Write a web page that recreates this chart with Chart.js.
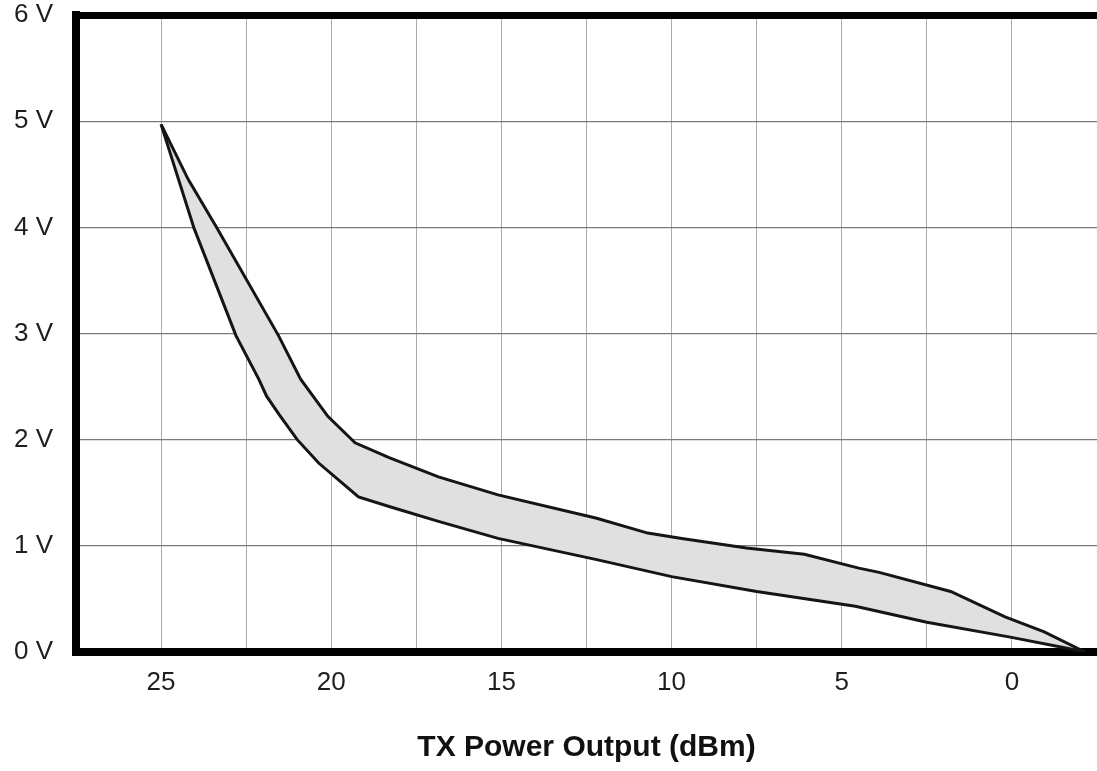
<!DOCTYPE html>
<html>
<head>
<meta charset="utf-8">
<script src="https://cdn.jsdelivr.net/npm/chart.js@4.4.1/dist/chart.umd.min.js"></script>
<style>
  html, body { margin: 0; padding: 0; background: #fff; }
  #wrap { width: 1097px; height: 771px; position: relative; }
</style>
</head>
<body>
<div id="wrap"><canvas id="c"></canvas></div>
<script>
// TX power (dBm) and voltage (V) for the upper and lower boundary curves
const upperPower = [25.0, 24.2, 23.35, 21.55, 20.9, 20.1, 19.3, 18.3, 16.85, 15.1, 12.2, 10.7, 9.7, 7.8, 6.1, 4.5, 3.9, 1.8, 0.2, -0.95, -2.15];
const upperVolts = [4.97, 4.45, 3.99, 2.98, 2.57, 2.22, 1.97, 1.83, 1.65, 1.48, 1.26, 1.12, 1.07, 0.98, 0.92, 0.79, 0.75, 0.57, 0.33, 0.19, 0.0];
const lowerPower = [25.0, 24.03, 22.8, 22.13, 21.9, 21.54, 21.0, 20.37, 19.2, 18.3, 16.85, 15.1, 12.2, 10.0, 7.5, 4.6, 2.5, 0.05, -1.55, -2.15];
const lowerVolts = [4.97, 3.99, 2.98, 2.57, 2.41, 2.24, 2.0, 1.78, 1.46, 1.37, 1.23, 1.07, 0.87, 0.71, 0.57, 0.43, 0.28, 0.14, 0.04, 0.0];
const xTickLabels = ['25', '20', '15', '10', '5', '0'];
const yTickLabels = ['0 V', '1 V', '2 V', '3 V', '4 V', '5 V', '6 V'];
const xTitle = 'TX Power Output (dBm)';

const toPts = (xs, ys) => xs.map((x, i) => ({ x: x, y: ys[i] }));
const FONT = 'Liberation Sans, Arial, sans-serif';

new Chart(document.getElementById('c'), {
  type: 'line',
  data: {
    datasets: [
      {
        data: toPts(upperPower, upperVolts),
        borderColor: '#151515',
        borderWidth: 3,
        pointRadius: 0,
        tension: 0,
        fill: '+1',
        backgroundColor: '#e0e0e0'
      },
      {
        data: toPts(lowerPower, lowerVolts),
        borderColor: '#151515',
        borderWidth: 3,
        pointRadius: 0,
        tension: 0,
        fill: false
      }
    ]
  },
  options: {
    responsive: true,
    maintainAspectRatio: false,
    animation: false,
    layout: { padding: { top: 15, right: 0, left: 0, bottom: 0 } },
    plugins: {
      legend: { display: false },
      tooltip: { enabled: false },
      filler: { drawTime: 'beforeDatasetsDraw' }
    },
    scales: {
      x: {
        type: 'linear',
        reverse: true,
        min: -2.5,
        max: 27.5,
        afterBuildTicks: (s) => {
          const t = [];
          for (let v = 27.5; v >= -2.5 - 1e-9; v -= 2.5) t.push({ value: Math.round(v * 10) / 10 });
          s.ticks = t;
        },
        afterFit: (s) => { s.height = 119; s.paddingLeft = 0; s.paddingRight = 0; },
        ticks: {
          autoSkip: false,
          maxRotation: 0,
          padding: 15,
          color: '#1e1e1e',
          font: { family: FONT, size: 26 },
          callback: (v) => {
            const idx = xTickLabels.indexOf(String(v));
            return idx >= 0 ? xTickLabels[idx] : '';
          }
        },
        grid: {
          color: '#ababab',
          lineWidth: 1,
          drawTicks: false
        },
        border: { display: true, color: '#000', width: 8 },
        title: {
          display: true,
          text: xTitle,
          color: '#111',
          font: { family: FONT, size: 30, weight: 'bold' },
          padding: { top: 20, bottom: 5 }
        }
      },
      y: {
        min: 0,
        max: 6,
        afterFit: (s) => { s.width = 76; s.paddingTop = 0; s.paddingBottom = 0; },
        ticks: {
          stepSize: 1,
          padding: 23,
          color: '#1e1e1e',
          font: { family: FONT, size: 26 },
          callback: (v) => yTickLabels[v] !== undefined ? yTickLabels[v] : ''
        },
        grid: {
          color: (ctx) => ctx.tick && ctx.tick.value === 6 ? '#000' : '#7a7a7a',
          lineWidth: (ctx) => ctx.tick && ctx.tick.value === 6 ? 7 : 1.3,
          drawTicks: false
        },
        border: { display: true, color: '#000', width: 8 }
      }
    }
  }
});
</script>
</body>
</html>
